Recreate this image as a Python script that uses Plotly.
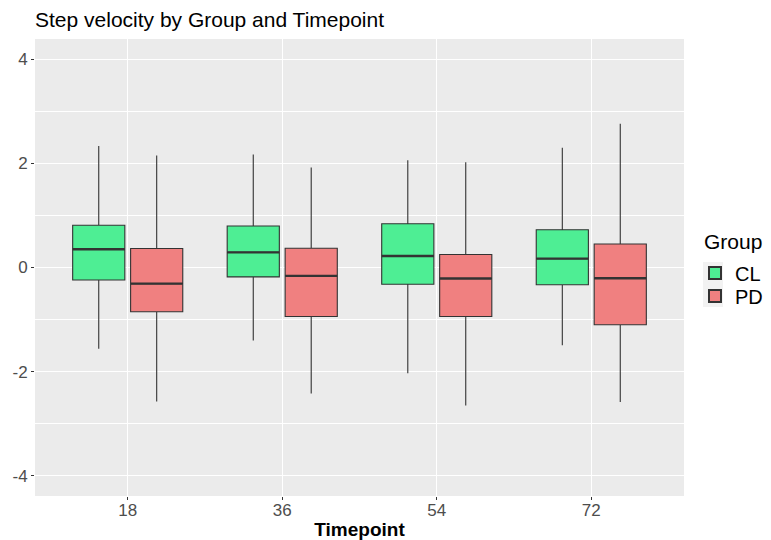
import plotly.graph_objects as go

# Five-number summaries of step velocity per timepoint
timepoints = ["18", "36", "54", "72"]

cl_lower = [-1.56, -1.40, -2.03, -1.49]
cl_q1 = [-0.24, -0.18, -0.32, -0.33]
cl_median = [0.35, 0.29, 0.22, 0.17]
cl_q3 = [0.81, 0.795, 0.84, 0.725]
cl_upper = [2.33, 2.17, 2.06, 2.30]

pd_lower = [-2.57, -2.42, -2.65, -2.58]
pd_q1 = [-0.85, -0.94, -0.94, -1.10]
pd_median = [-0.31, -0.16, -0.21, -0.205]
pd_q3 = [0.365, 0.37, 0.25, 0.45]
pd_upper = [2.15, 1.92, 2.02, 2.76]

y_ticks = [-4, -2, 0, 2, 4]
y_tick_labels = ["-4", "-2", "0", "2", "4"]

groups = [
    ("CL", "#4EEE94", cl_lower, cl_q1, cl_median, cl_q3, cl_upper),
    ("PD", "#F08080", pd_lower, pd_q1, pd_median, pd_q3, pd_upper),
]

OUTLINE = "#333333"
BOXGAP = 0.25
GROUPGAP = 0.1

W, H = 771, 540
ML, MR, MT, MB = 35, 0, 39, 44
PANEL_RIGHT = 684
plot_w = W - ML - MR
plot_h = H - MT - MB


def px_x(p):
    return (p - ML) / plot_w


def px_y(p):
    return (H - MB - p) / plot_h


legend_names = ["legend", "legend2"]
legend_rows = [273, 296]

fig = go.Figure()
for k, (name, color, lo, q1, med, q3, hi) in enumerate(groups):
    fig.add_trace(go.Box(
        name=name,
        x=timepoints,
        lowerfence=lo, q1=q1, median=med, q3=q3, upperfence=hi,
        boxpoints=False,
        whiskerwidth=0,
        fillcolor=color,
        line=dict(color=OUTLINE, width=1.1),
        legend=legend_names[k],
    ))

# Heavier median bars, placed at the dodged box positions
slot = (1 - BOXGAP) / len(groups)
half = slot * (1 - GROUPGAP) / 2
for g, (name, color, lo, q1, med, q3, hi) in enumerate(groups):
    offset = -(1 - BOXGAP) / 2 + slot * (g + 0.5)
    for i, m in enumerate(med):
        fig.add_shape(type="line", xref="x", yref="y",
                      x0=i + offset - half, x1=i + offset + half, y0=m, y1=m,
                      line=dict(color=OUTLINE, width=2.4))

# Light key background behind the legend symbols
fig.add_shape(type="rect", xref="paper", yref="paper", layer="below",
              x0=px_x(703), x1=px_x(723), y0=px_y(307), y1=px_y(262),
              fillcolor="#F2F2F2", line=dict(width=0))

fig.add_annotation(text="Group", xref="paper", yref="paper",
                   x=px_x(702), y=px_y(241), xanchor="left", yanchor="middle",
                   showarrow=False, font=dict(size=21, color="black"))

legend_style = dict(font=dict(size=20, color="black"), xanchor="left",
                    yanchor="middle", itemsizing="constant",
                    bgcolor="rgba(0,0,0,0)", x=px_x(695))

fig.update_layout(
    width=W, height=H,
    margin=dict(l=ML, r=MR, t=MT, b=MB, autoexpand=False),
    paper_bgcolor="white",
    plot_bgcolor="#EBEBEB",
    boxmode="group",
    boxgap=BOXGAP,
    boxgroupgap=GROUPGAP,
    font=dict(family="Liberation Sans, Arial, sans-serif"),
    title=dict(text="Step velocity by Group and Timepoint",
               x=ML / W, xanchor="left", y=1 - 20 / H, yanchor="middle",
               font=dict(size=21, color="black")),
    legend=dict(legend_style, y=px_y(legend_rows[0])),
    legend2=dict(legend_style, y=px_y(legend_rows[1])),
    showlegend=True,
)

fig.update_xaxes(
    type="category",
    domain=[0, (PANEL_RIGHT - ML) / plot_w],
    automargin=False,
    range=[-0.6, 3.6],
    showgrid=True, gridcolor="white", gridwidth=1.1,
    zeroline=False,
    ticks="outside", ticklen=3, tickcolor=OUTLINE, tickwidth=1,
    ticklabelstandoff=-4,
    tickfont=dict(size=17, color="#4D4D4D"),
    title=dict(text="<b>Timepoint</b>", font=dict(size=19, color="black"), standoff=6),
)

fig.update_yaxes(
    range=[-4.385, 4.385],
    automargin=False,
    tickvals=y_ticks, ticktext=y_tick_labels,
    showgrid=True, gridcolor="white", gridwidth=1.1,
    minor=dict(dtick=1, tick0=0, showgrid=True, gridcolor="white", gridwidth=0.5),
    zeroline=False,
    ticks="outside", ticklen=3, tickcolor=OUTLINE, tickwidth=1,
    tickfont=dict(size=17, color="#4D4D4D"),
)

fig.write_html("out.html")
